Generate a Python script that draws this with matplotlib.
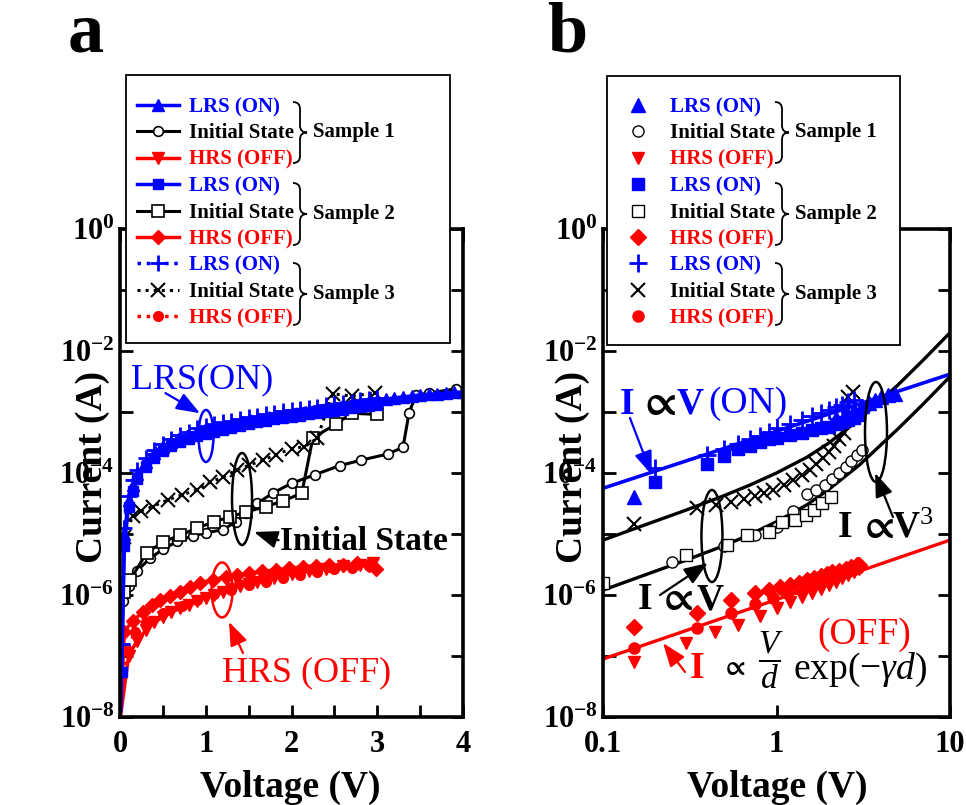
import numpy as np
import matplotlib
matplotlib.use("Agg")
import matplotlib.pyplot as plt
from matplotlib import transforms
from matplotlib.patches import Ellipse, Rectangle, PathPatch
from matplotlib.path import Path

plt.rcParams["font.family"] = ["Liberation Serif", "DejaVu Serif"]
plt.rcParams["font.weight"] = "bold"
plt.rcParams["mathtext.fontset"] = "custom"
plt.rcParams["mathtext.rm"] = "Liberation Serif:weight=normal"
plt.rcParams["mathtext.it"] = "Liberation Serif:style=italic:weight=normal"
plt.rcParams["mathtext.bf"] = "Liberation Serif:weight=bold"
plt.rcParams["mathtext.fallback"] = "stix"

# ---------------- panel a : I-V sweeps (V in volts, log10 of I in A) ----------------
a_lrs1_v = [0.01, 0.05, 0.1, 0.15, 0.2, 0.3, 0.4, 0.5, 0.6, 0.7, 0.8, 0.9, 1.0, 1.1, 1.2,
            1.3, 1.4, 1.5, 1.6, 1.7, 1.8, 1.9, 2.0, 2.1, 2.2, 2.3, 2.4, 2.5, 2.6, 2.7, 2.8,
            2.9, 3.0, 3.1, 3.2, 3.3, 3.4, 3.5, 3.6, 3.7, 3.8, 3.9, 4.0]
a_lrs1_log = [-7.9, -5.0, -4.45, -4.2, -4.02, -3.82, -3.68, -3.57, -3.49, -3.42, -3.37, -3.32,
              -3.28, -3.25, -3.22, -3.19, -3.16, -3.14, -3.11, -3.09, -3.06, -3.04, -3.02, -3.0,
              -2.98, -2.96, -2.94, -2.91, -2.89, -2.87, -2.85, -2.83, -2.81, -2.79, -2.77, -2.75,
              -2.74, -2.72, -2.71, -2.7, -2.69, -2.68, -2.67]
a_lrs2_v = [0.02, 0.05, 0.1, 0.15, 0.2, 0.3, 0.4, 0.5, 0.6, 0.7, 0.8, 0.9, 1.0, 1.1, 1.2, 1.3,
            1.4, 1.5, 1.6, 1.7, 1.8, 1.9, 2.0, 2.1, 2.2, 2.3, 2.4, 2.5, 2.6, 2.7, 2.8, 2.9, 3.0]
a_lrs2_log = [-7.26, -5.2, -4.55, -4.3, -4.1, -3.9, -3.75, -3.64, -3.56, -3.5, -3.45, -3.4,
              -3.36, -3.32, -3.29, -3.26, -3.23, -3.2, -3.17, -3.15, -3.12, -3.1, -3.08, -3.06,
              -3.04, -3.02, -3.0, -2.98, -2.96, -2.94, -2.92, -2.9, -2.88]
a_lrs3_v = a_lrs2_v
a_lrs3_log = [-6.8, -4.9, -4.38, -4.12, -3.95, -3.76, -3.62, -3.52, -3.44, -3.37, -3.32, -3.27,
              -3.23, -3.2, -3.17, -3.14, -3.11, -3.08, -3.06, -3.03, -3.01, -2.99, -2.97, -2.95,
              -2.93, -2.91, -2.89, -2.87, -2.85, -2.83, -2.81, -2.79, -2.77]

a_init1_v = [0.03, 0.1, 0.2, 0.35, 0.5, 0.67, 0.85, 1.0, 1.2, 1.35, 1.47, 1.6, 1.78, 2.0, 2.27,
             2.56, 2.81, 3.12, 3.3, 3.37, 3.45, 3.6, 3.92]
a_init1_log = [-6.1, -5.85, -5.6, -5.4, -5.25, -5.12, -5.03, -4.98, -4.93, -4.8, -4.66, -4.5,
               -4.33, -4.17, -4.03, -3.88, -3.79, -3.69, -3.58, -3.02, -2.72, -2.69, -2.62]
a_init2_v = [0.05, 0.12, 0.31, 0.5, 0.7, 0.9, 1.1, 1.28, 1.47, 1.7, 1.9, 2.12, 2.25, 2.52, 2.7, 3.0]
a_init2_log = [-5.95, -5.75, -5.31, -5.13, -5.02, -4.9, -4.8, -4.72, -4.64, -4.55, -4.46, -4.33,
               -3.42, -3.2, -3.02, -3.04]
a_init3_v = [0.05, 0.15, 0.25, 0.38, 0.56, 0.72, 0.9, 1.05, 1.2, 1.36, 1.51, 1.67, 1.82, 2.0,
             2.15, 2.3, 2.48, 2.7, 2.97]
a_init3_log = [-5.05, -4.7, -4.62, -4.55, -4.44, -4.36, -4.28, -4.15, -4.07, -3.95, -3.87, -3.79,
               -3.7, -3.6, -3.57, -3.43, -2.7, -2.74, -2.69]

a_hrs1_v = [0.01, 0.1, 0.2, 0.3, 0.4, 0.5, 0.6, 0.7, 0.8, 0.9, 1.0, 1.1, 1.2, 1.3, 1.4, 1.5,
            1.6, 1.7, 1.8, 1.9, 2.0, 2.2, 2.4, 2.6, 2.8, 2.95]
a_hrs1_log = [-7.95, -7.0, -6.75, -6.58, -6.45, -6.36, -6.28, -6.22, -6.16, -6.1, -6.05, -6.0,
              -5.95, -5.9, -5.86, -5.82, -5.78, -5.75, -5.72, -5.69, -5.66, -5.61, -5.57, -5.53,
              -5.5, -5.47]
a_hrs2_v = [0.01, 0.05, 0.15, 0.27, 0.37, 0.47, 0.58, 0.7, 0.82, 0.93, 1.08, 1.24, 1.37, 1.51,
            1.66, 1.82, 1.97, 2.13, 2.28, 2.44, 2.6, 2.76, 2.9, 2.98]
a_hrs2_log = [-7.9, -6.6, -6.42, -6.28, -6.17, -6.08, -6.01, -5.95, -5.87, -5.8, -5.75, -5.7,
              -5.67, -5.64, -5.61, -5.59, -5.56, -5.54, -5.52, -5.51, -5.5, -5.48, -5.5, -5.58]
a_hrs3_v = [0.01, 0.08, 0.18, 0.3, 0.5, 0.72, 0.9, 1.1, 1.3, 1.5, 1.7, 1.9, 2.1, 2.3, 2.5, 2.7, 2.9]
a_hrs3_log = [-7.9, -6.9, -6.6, -6.45, -6.3, -6.18, -6.08, -5.99, -5.91, -5.84, -5.78, -5.72,
              -5.67, -5.62, -5.58, -5.55, -5.52]

# ---------------- panel b : log-log data and fits ----------------
b_lrs1_v = [0.15, 2.2, 2.5, 2.8, 3.1, 3.4, 3.7, 4.0, 4.4, 4.8]
b_lrs1_log = [-4.39, -3.1, -3.02, -2.96, -2.9, -2.85, -2.8, -2.76, -2.72, -2.7]
b_lrs2_v = [0.2, 0.4, 0.5, 0.6, 0.7, 0.8, 0.9, 1.0, 1.2, 1.4, 1.6, 1.8, 2.0, 2.2, 2.4, 2.6, 2.8, 3.0]
b_lrs2_log = [-4.15, -3.85, -3.72, -3.6, -3.55, -3.5, -3.45, -3.42, -3.38, -3.34, -3.3, -3.27,
              -3.24, -3.2, -3.16, -3.13, -3.1, -3.05]
b_lrs3_v = [0.2, 0.4, 0.5, 0.6, 0.7, 0.8, 0.9, 1.0, 1.2, 1.4, 1.6, 1.8, 2.0, 2.2, 2.4, 2.6, 2.8]
b_lrs3_log = [-3.92, -3.7, -3.6, -3.53, -3.45, -3.4, -3.33, -3.27, -3.2, -3.13, -3.07, -3.02,
              -2.97, -2.92, -2.88, -2.84, -2.8]

b_init1_v = [0.25, 0.5, 0.75, 1.0, 1.25, 1.5, 1.7, 1.9, 2.1, 2.3, 2.5, 2.7, 2.9, 3.1]
b_init1_log = [-5.46, -5.2, -5.02, -4.88, -4.62, -4.35, -4.28, -4.2, -4.1, -4.0, -3.9, -3.8,
               -3.7, -3.62]
b_init2_v = [0.1, 0.3, 0.52, 0.68, 0.91, 1.08, 1.27, 1.48, 1.65, 1.83, 2.07]
b_init2_log = [-5.8, -5.35, -5.18, -5.02, -4.96, -4.8, -4.77, -4.69, -4.6, -4.5, -4.39]
b_init3_v = [0.15, 0.35, 0.45, 0.55, 0.65, 0.75, 0.85, 0.95, 1.1, 1.25, 1.4, 1.55, 1.7, 1.85,
             2.0, 2.15, 2.3, 2.45, 2.6, 2.75]
b_init3_log = [-4.83, -4.57, -4.53, -4.48, -4.43, -4.38, -4.33, -4.28, -4.2, -4.12, -4.03, -3.95,
               -3.85, -3.75, -3.65, -3.55, -3.45, -3.35, -2.75, -2.68]

b_hrs1_v = [0.15, 0.3, 0.44, 0.6, 0.8, 1.0, 1.2, 1.4, 1.6, 1.8, 2.0, 2.2, 2.4, 2.6, 2.8, 3.0]
b_hrs1_log = [-7.1, -6.79, -6.6, -6.49, -6.35, -6.22, -6.12, -6.03, -5.96, -5.9, -5.84, -5.78,
              -5.72, -5.67, -5.62, -5.58]
b_hrs2_v = [0.15, 0.35, 0.55, 0.75, 0.9, 1.05, 1.2, 1.35, 1.5, 1.65, 1.8, 1.95, 2.1, 2.3, 2.5,
            2.7, 2.9, 3.0]
b_hrs2_log = [-6.52, -6.3, -6.08, -5.97, -5.92, -5.87, -5.83, -5.8, -5.76, -5.72, -5.69, -5.66,
              -5.63, -5.6, -5.57, -5.54, -5.51, -5.5]
b_hrs3_v = [0.15, 0.35, 0.55, 0.75, 0.95, 1.15, 1.35, 1.55, 1.75, 1.95, 2.15, 2.35, 2.55, 2.75, 2.95]
b_hrs3_log = [-6.87, -6.54, -6.3, -6.15, -6.05, -5.97, -5.9, -5.84, -5.79, -5.74, -5.7, -5.66,
              -5.62, -5.59, -5.56]

fit_on_v = [0.1, 10.0]
fit_on_log = [-4.25, -2.38]
fit_off_v = [0.1, 10.0]
fit_off_log = [-7.05, -5.1]
fit_init_v = [0.1, 0.2, 0.3, 0.5, 0.7, 1.0, 1.5, 2.0, 3.0, 5.0, 7.0, 10.0]
fit_init_hi_log = [-5.10, -4.79, -4.61, -4.37, -4.20, -4.00, -3.74, -3.51, -3.12, -2.56, -2.15, -1.70]
fit_init_lo_log = [-5.92, -5.61, -5.43, -5.19, -5.01, -4.80, -4.52, -4.27, -3.87, -3.28, -2.87, -2.42]

legend_labels = ["LRS (ON)", "Initial State", "HRS (OFF)"] * 3
sample_labels = ["Sample 1", "Sample 2", "Sample 3"]
y_exps = list(range(-8, 1))

W, H = 966, 805
fig = plt.figure(figsize=(W / 100, H / 100), dpi=100)
axa = fig.add_axes([120 / W, 1 - 717 / H, 343 / W, 488 / H])
axb = fig.add_axes([603 / W, 1 - 717 / H, 347 / W, 488 / H])


def curve(ax, v, lg, **kw):
    return ax.plot(v, np.power(10.0, lg), **kw)[0]


def ring(ax, v, i, w, h, color):
    trans = fig.dpi_scale_trans + transforms.ScaledTranslation(v, i, ax.transData)
    ax.add_patch(Ellipse((0, 0), w, h, transform=trans, fill=False, ec=color, lw=1.8,
                         clip_on=False, zorder=6))


def arrow(ax, tail, tip, color):
    ax.annotate("", xy=tip, xytext=tail, annotation_clip=False,
                arrowprops=dict(arrowstyle="-|>,head_length=0.8,head_width=0.3",
                                color=color, lw=1.6, mutation_scale=18, shrinkA=0, shrinkB=0))


def fxy(px, py):
    return px / W, 1 - py / H


def brace(x, top, bot, w=14):
    mid = (top + bot) / 2
    c = x + w / 2
    pts = [(x, top), (c, top), (c, top + 7), (c, mid - 7), (c, mid), (x + w, mid),
           (c, mid), (c, mid + 7), (c, bot - 7), (c, bot), (x, bot)]
    codes = [Path.MOVETO, Path.CURVE3, Path.CURVE3, Path.LINETO, Path.CURVE3, Path.CURVE3,
             Path.CURVE3, Path.CURVE3, Path.LINETO, Path.CURVE3, Path.CURVE3]
    p = Path([fxy(*q) for q in pts], codes)
    fig.add_artist(PathPatch(p, transform=fig.transFigure, fill=False, ec="black",
                             lw=1.3, zorder=6))


def style_axes(ax):
    ax.set_yscale("log")
    ax.set_ylim(1e-8, 1)
    ax.set_yticks([10.0 ** e for e in y_exps])
    ax.set_yticklabels([r"$\mathbf{10^{%d}}$" % e if e % 2 == 0 else "" for e in y_exps])
    ax.yaxis.set_minor_locator(matplotlib.ticker.NullLocator())
    ax.tick_params(which="both", direction="in", length=9, width=2, top=True, right=True,
                   labelsize=22)
    ax.tick_params(axis="x", pad=9)
    ax.tick_params(axis="y", pad=4)
    for s in ax.spines.values():
        s.set_linewidth(2.6)


# ---------- panel a ----------
style_axes(axa)
axa.set_xlim(0, 4)
axa.set_xticks(np.arange(0, 4.01, 0.5))
axa.set_xticklabels(["0", "", "1", "", "2", "", "3", "", "4"])

skip = slice(1, None)
h_a = {}
h_a["h1"] = curve(axa, a_hrs1_v, a_hrs1_log, color="red", marker="v", ms=8, lw=2.5, markevery=skip)
h_a["h2"] = curve(axa, a_hrs2_v, a_hrs2_log, color="red", marker="D", ms=7, lw=2.5, markevery=skip)
h_a["h3"] = curve(axa, a_hrs3_v, a_hrs3_log, color="red", marker="o", ms=7, lw=2.5, ls=":",
                  markevery=skip)
h_a["i1"] = curve(axa, a_init1_v, a_init1_log, color="black", marker="o", ms=7, mfc="white",
                  mew=1.2, lw=2.2)
h_a["i2"] = curve(axa, a_init2_v, a_init2_log, color="black", marker="s", ms=8, mfc="white",
                  mew=1.2, lw=2.2)
h_a["i3"] = curve(axa, a_init3_v, a_init3_log, color="black", marker="x", ms=10, mew=1.5,
                  lw=2.2, ls=":")
h_a["l1"] = curve(axa, a_lrs1_v, a_lrs1_log, color="blue", marker="^", ms=8, lw=2.5, markevery=skip)
h_a["l2"] = curve(axa, a_lrs2_v, a_lrs2_log, color="blue", marker="s", ms=7, lw=2.5)
h_a["l3"] = curve(axa, a_lrs3_v, a_lrs3_log, color="blue", marker="+", ms=11, mew=2, lw=2.5, ls=":")

axa.text(0.958, 3.35e-3, "LRS(ON)", color="blue", fontsize=26, fontweight="normal",
         ha="center", va="center")
arrow(axa, (0.53, 2.04e-3), (0.933, 9.55e-4), "blue")
ring(axa, 1.003, 4.05e-4, 0.15, 0.52, "blue")
ring(axa, 1.423, 3.75e-5, 0.20, 0.92, "black")
axa.text(1.866, 7.4e-6, "Initial State", fontsize=24, ha="left", va="center")
arrow(axa, (1.85, 7.9e-6), (1.563, 1.08e-5), "black")
ring(axa, 1.19, 1.21e-6, 0.21, 0.55, "red")
arrow(axa, (1.434, 1.12e-7), (1.271, 3.63e-7), "red")
axa.text(2.18, 5.25e-8, "HRS (OFF)", color="red", fontsize=26, fontweight="normal",
         ha="center", va="center")

# ---------- panel b ----------
style_axes(axb)
axb.set_xscale("log")
axb.set_xlim(0.1, 10)
axb.set_xticks([0.1, 1, 10])
axb.set_xticklabels(["0.1", "1", "10"])
axb.xaxis.set_minor_locator(matplotlib.ticker.NullLocator())

curve(axb, fit_init_v, fit_init_hi_log, color="black", lw=2.4)
curve(axb, fit_init_v, fit_init_lo_log, color="black", lw=2.4)
curve(axb, fit_on_v, fit_on_log, color="blue", lw=2.6)
curve(axb, fit_off_v, fit_off_log, color="red", lw=2.4)

pt = dict(ls="none")
h_b = {}
h_b["h1"] = curve(axb, b_hrs1_v, b_hrs1_log, color="red", marker="v", ms=9, **pt)
h_b["h2"] = curve(axb, b_hrs2_v, b_hrs2_log, color="red", marker="D", ms=8, **pt)
h_b["h3"] = curve(axb, b_hrs3_v, b_hrs3_log, color="red", marker="o", ms=8, **pt)
h_b["i1"] = curve(axb, b_init1_v, b_init1_log, color="black", marker="o", ms=8, mfc="white",
                  mew=1.0, **pt)
h_b["i2"] = curve(axb, b_init2_v, b_init2_log, color="black", marker="s", ms=9, mfc="white",
                  mew=1.0, **pt)
h_b["i3"] = curve(axb, b_init3_v, b_init3_log, color="black", marker="x", ms=10, mew=1.5, **pt)
h_b["l1"] = curve(axb, b_lrs1_v, b_lrs1_log, color="blue", marker="^", ms=10, **pt)
h_b["l2"] = curve(axb, b_lrs2_v, b_lrs2_log, color="blue", marker="s", ms=9, **pt)
h_b["l3"] = curve(axb, b_lrs3_v, b_lrs3_log, color="blue", marker="+", ms=13, mew=2, **pt)

y_on = 1.35e-3
axb.text(0.125, y_on, "I", color="blue", fontsize=27, ha="left", va="center")
axb.text(0.157, y_on, r"$\propto$", color="black", fontsize=32, ha="left", va="center")
axb.text(0.267, y_on, "V", color="blue", fontsize=27, ha="left", va="center")
axb.text(0.405, y_on, "(ON)", color="blue", fontsize=27, fontweight="normal", ha="left",
         va="center")
arrow(axb, (0.143, 7.98e-4), (0.191, 9.33e-5), "blue")

y_lo = 8.3e-7
axb.text(0.159, y_lo, "I", fontsize=27, ha="left", va="center")
axb.text(0.203, y_lo, r"$\propto$", fontsize=30, ha="left", va="center")
axb.text(0.345, y_lo, "V", fontsize=27, ha="left", va="center")
arrow(axb, (0.213, 1.0e-6), (0.402, 3.35e-6), "black")
ring(axb, 0.4246, 9.27e-6, 0.21, 0.92, "black")
ring(axb, 3.745, 4.70e-4, 0.22, 1.0, "black")

y_v3 = 1.26e-5
axb.text(2.26, y_v3, "I", fontsize=27, ha="left", va="center")
axb.text(2.91, y_v3, r"$\propto$", fontsize=30, ha="left", va="center")
axb.text(4.63, y_v3, r"$\mathbf{V}^{\mathrm{3}}$", fontsize=27, ha="left", va="center")
arrow(axb, (4.69, 1.9e-5), (3.70, 1.0e-4), "black")

y_off = 6.35e-8
axb.text(0.317, y_off, "I", color="red", fontsize=27, ha="left", va="center")
axb.text(0.4725, y_off, r"$\propto$", fontsize=20, ha="left", va="center")
axb.text(0.93, 8.6e-8, r"$\dfrac{V}{d}$", fontsize=24, ha="center", va="center")
axb.text(1.245, 5.9e-8, r"$\mathrm{exp}(-\gamma d)$", fontsize=27, ha="left", va="center")
axb.text(1.712, 2.21e-7, "(OFF)", color="red", fontsize=27, fontweight="normal", ha="left",
         va="center")
arrow(axb, (0.297, 5.47e-8), (0.2218, 1.63e-7), "red")

# ---------- legends ----------
order = ["l1", "i1", "h1", "l2", "i2", "h2", "l3", "i3", "h3"]
lprop = {"family": "Liberation Serif", "weight": "bold", "size": 15}

for handles, box, hx, hl, tp, bx in [
        (h_a, (126, 75, 450, 343), 137, 2.0, 0.5, 293),
        (h_b, (607, 76, 900, 345), 628, 1.0, 1.0, 775)]:
    x0, y0, x1, y1 = box
    fig.add_artist(Rectangle(fxy(x0, y1), (x1 - x0) / W, (y1 - y0) / H,
                             transform=fig.transFigure, fc="white", ec="black", lw=1.3,
                             zorder=3))
    leg = fig.legend([handles[k] for k in order], legend_labels, loc="upper left",
                     bbox_to_anchor=fxy(hx, 97), bbox_transform=fig.transFigure,
                     frameon=False, borderpad=0, borderaxespad=0, handlelength=hl,
                     handletextpad=tp, labelspacing=0.31, prop=lprop, labelcolor="linecolor")
    leg.set_zorder(5)
    for (top, bot), s in zip([(102, 163), (183, 245), (263, 325)], sample_labels):
        brace(bx, top, bot)
        fig.text(*fxy(bx + 20, (top + bot) / 2), s, fontsize=15, ha="left", va="center",
                 zorder=6)

# ---------- labels ----------
for cx, ly in [(290, 92), (777, 573)]:
    fig.text(*fxy(cx, 797), "Voltage (V)", fontsize=27, ha="center", va="baseline")
    fig.text(*fxy(ly, 467), "Current (A)", fontsize=27, rotation=90, ha="center", va="center")
fig.text(*fxy(86, 52), "a", fontsize=52, ha="center", va="baseline")
fig.text(*fxy(567, 52), "b", fontsize=52, ha="center", va="baseline")

fig.savefig("out.png", dpi=100)
